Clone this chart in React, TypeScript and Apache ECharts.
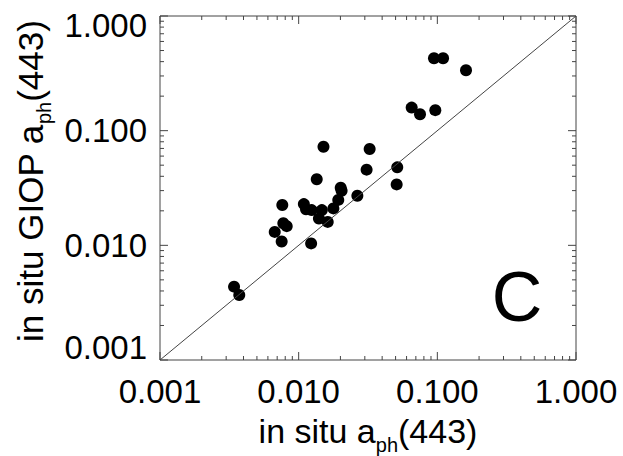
import React, { useEffect, useRef } from "react";
import * as echarts from "echarts";

// in situ a_ph(443)
const inSitu = [
  0.0946, 0.110, 0.161, 0.0653, 0.075, 0.0967, 0.0151, 0.0325, 0.0309, 0.0514,
  0.0509, 0.0135, 0.0201, 0.0204, 0.0265, 0.0193, 0.0178, 0.00762, 0.0109, 0.0113,
  0.0124, 0.0147, 0.0140, 0.0162, 0.00775, 0.0082, 0.00672, 0.00754, 0.0123,
  0.00342, 0.00373,
];
// in situ GIOP a_ph(443)
const giop = [
  0.428, 0.428, 0.336, 0.159, 0.139, 0.151, 0.0725, 0.0692, 0.0457, 0.0479,
  0.0340, 0.0377, 0.0318, 0.0299, 0.0271, 0.0249, 0.0210, 0.0225, 0.0229, 0.0206,
  0.0203, 0.0203, 0.0171, 0.0160, 0.0156, 0.0147, 0.0131, 0.0108, 0.0104,
  0.00436, 0.00369,
];
const oneToOne = [0.001, 1];
const decades = [0.001, 0.01, 0.1, 1];
const minorMultipliers = [2, 3, 4, 5, 6, 7, 8, 9];
const panelLetter = "C";
const xTitleParts = ["in situ a", "ph", "(443)"];
const yTitleParts = ["in situ GIOP a", "ph", "(443)"];

const FONT = "'Liberation Sans', Arial, Helvetica, sans-serif";
const GRID = { left: 160, top: 16, width: 416, height: 344 };

function measure(text: string, size: number) {
  const c = document.createElement("canvas").getContext("2d");
  if (!c) return text.length * size * 0.55;
  c.font = `${size}px ${FONT}`;
  return c.measureText(text).width;
}

function subscriptTitle(parts: string[], size: number, subSize: number, drop: number, x: number, y: number, rotation: number) {
  const w0 = measure(parts[0], size);
  const w1 = measure(parts[1], subSize);
  const w2 = measure(parts[2], size);
  const start = -(w0 + w1 + w2) / 2;
  const base = { fontFamily: FONT, fill: "#000", align: "left", verticalAlign: "middle" };
  return {
    type: "group",
    x,
    y,
    rotation,
    silent: true,
    children: [
      { type: "text", x: start, y: 0, style: { ...base, text: parts[0], fontSize: size } },
      { type: "text", x: start + w0, y: drop, style: { ...base, text: parts[1], fontSize: subSize } },
      { type: "text", x: start + w0 + w1, y: 0, style: { ...base, text: parts[2], fontSize: size } },
    ],
  };
}

export default function App() {
  const ref = useRef<HTMLDivElement>(null);
  useEffect(() => {
    if (!ref.current) return;
    const chart = echarts.init(ref.current, undefined, { renderer: "svg" });
    const fmt = (v: number) => v.toFixed(3);
    chart.setOption({
      animation: false,
      backgroundColor: "#ffffff",
      grid: {
        left: GRID.left,
        top: GRID.top,
        width: GRID.width,
        height: GRID.height,
        show: true,
        borderColor: "#444",
        borderWidth: 1,
        backgroundColor: "transparent",
      },
      xAxis: {
        type: "log",
        logBase: 10,
        min: 0.001,
        max: 1,
        splitNumber: 3,
        axisLine: { show: false },
        axisTick: { show: false },
        splitLine: { show: false },
        axisLabel: {
          formatter: (v: number) => fmt(v),
          fontFamily: FONT,
          fontSize: 33,
          color: "#000",
          margin: 15,
        },
      },
      yAxis: {
        type: "log",
        logBase: 10,
        min: 0.001,
        max: 1,
        splitNumber: 3,
        axisLine: { show: false },
        axisTick: { show: false },
        splitLine: { show: false },
        axisLabel: {
          formatter: (v: number) => {
            const s = fmt(v);
            if (v > 0.5) return `{top|${s}}`;
            if (v < 0.002) return `{bot|${s}}`;
            return `{n|${s}}`;
          },
          margin: 13,
          rich: {
            n: { fontFamily: FONT, fontSize: 33, color: "#000" },
            top: { fontFamily: FONT, fontSize: 33, color: "#000", padding: [18, 0, 0, 0] },
            bot: { fontFamily: FONT, fontSize: 33, color: "#000", padding: [0, 0, 25, 0] },
          },
        },
      },
      series: [
        {
          type: "line",
          data: oneToOne.map((v) => [v, v]),
          symbol: "none",
          lineStyle: { color: "#444", width: 1 },
          silent: true,
        },
        {
          type: "scatter",
          data: inSitu.map((x, i) => [x, giop[i]]),
          symbol: "circle",
          symbolSize: 12,
          itemStyle: { color: "#000", opacity: 1 },
        },
      ],
    });

    // ticks on all four sides, pointing inward (log minor ticks 2..9)
    const graphics: any[] = [];
    const x0 = GRID.left, x1 = GRID.left + GRID.width;
    const y0 = GRID.top, y1 = GRID.top + GRID.height;
    const tickVals: { v: number; major: boolean }[] = [];
    decades.forEach((d, i) => {
      tickVals.push({ v: d, major: true });
      if (i < decades.length - 1) minorMultipliers.forEach((m) => tickVals.push({ v: d * m, major: false }));
    });
    const tickStyle = { stroke: "#444", lineWidth: 1 };
    tickVals.forEach(({ v, major }) => {
      const len = major ? 8 : 4;
      const px = chart.convertToPixel({ xAxisIndex: 0 }, v) as number;
      const py = chart.convertToPixel({ yAxisIndex: 0 }, v) as number;
      graphics.push({ type: "line", shape: { x1: px, y1: y1, x2: px, y2: y1 - len }, style: tickStyle, silent: true });
      graphics.push({ type: "line", shape: { x1: px, y1: y0, x2: px, y2: y0 + len }, style: tickStyle, silent: true });
      graphics.push({ type: "line", shape: { x1: x0, y1: py, x2: x0 + len, y2: py }, style: tickStyle, silent: true });
      graphics.push({ type: "line", shape: { x1: x1, y1: py, x2: x1 - len, y2: py }, style: tickStyle, silent: true });
    });

    graphics.push(subscriptTitle(xTitleParts, 34, 20, 14, 368, 431, 0));
    graphics.push(subscriptTitle(yTitleParts, 35, 20, 14, 30, 181, Math.PI / 2));
    graphics.push({
      type: "text",
      x: 517,
      y: 297,
      style: {
        text: panelLetter,
        fontFamily: FONT,
        fontSize: 70,
        fill: "#000",
        align: "center",
        verticalAlign: "middle",
      },
      silent: true,
    });
    chart.setOption({ graphic: graphics });

    return () => chart.dispose();
  }, []);
  return <div ref={ref} style={{ position: "fixed", left: 0, top: 0, width: 623, height: 456 }} />;
}
